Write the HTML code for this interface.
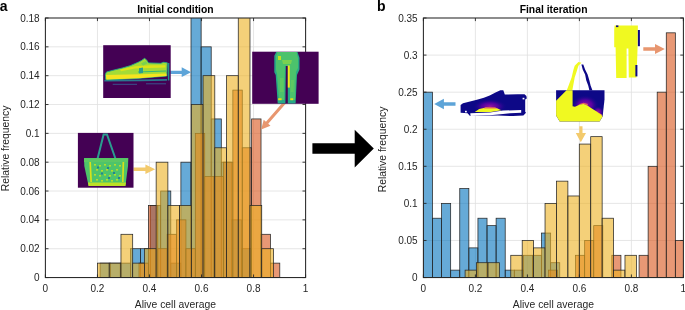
<!DOCTYPE html><html><head><meta charset="utf-8"><style>html,body{margin:0;padding:0;background:#fff;width:685px;height:310px;overflow:hidden}svg{display:block;will-change:transform}</style></head><body><svg width="685" height="310" viewBox="0 0 685 310" font-family='"Liberation Sans", sans-serif'><defs><clipPath id="cl"><rect x="45.4" y="18.0" width="260.20000000000005" height="259.55"/></clipPath><clipPath id="cr"><rect x="423.4" y="18.0" width="260.0" height="259.55"/></clipPath></defs><rect width="685" height="310" fill="#fff"/><g stroke="#dfdfdf" stroke-width="0.8"><line x1="97.44" y1="18.0" x2="97.44" y2="277.55"/><line x1="149.48" y1="18.0" x2="149.48" y2="277.55"/><line x1="201.52" y1="18.0" x2="201.52" y2="277.55"/><line x1="253.56" y1="18.0" x2="253.56" y2="277.55"/><line x1="45.4" y1="248.71" x2="305.6" y2="248.71"/><line x1="45.4" y1="219.87" x2="305.6" y2="219.87"/><line x1="45.4" y1="191.03" x2="305.6" y2="191.03"/><line x1="45.4" y1="162.19" x2="305.6" y2="162.19"/><line x1="45.4" y1="133.36" x2="305.6" y2="133.36"/><line x1="45.4" y1="104.52" x2="305.6" y2="104.52"/><line x1="45.4" y1="75.68" x2="305.6" y2="75.68"/><line x1="45.4" y1="46.84" x2="305.6" y2="46.84"/></g><g clip-path="url(#cl)" fill="#0072BD" fill-opacity="0.6" stroke="#262626" stroke-width="0.75"><rect x="100.10" y="263.13" width="10.10" height="14.42"/><rect x="110.20" y="263.13" width="10.10" height="14.42"/><rect x="120.30" y="263.13" width="10.10" height="14.42"/><rect x="130.40" y="248.71" width="10.10" height="28.84"/><rect x="140.50" y="248.71" width="10.10" height="28.84"/><rect x="150.60" y="205.45" width="10.10" height="72.10"/><rect x="160.70" y="191.03" width="10.10" height="86.52"/><rect x="170.80" y="263.13" width="10.10" height="14.42"/><rect x="180.90" y="162.19" width="10.10" height="115.36"/><rect x="191.00" y="-183.87" width="10.10" height="461.42"/><rect x="201.10" y="46.84" width="10.10" height="230.71"/><rect x="211.20" y="118.94" width="10.10" height="158.61"/><rect x="221.30" y="162.19" width="10.10" height="115.36"/><rect x="231.40" y="219.87" width="10.10" height="57.68"/><rect x="241.50" y="248.71" width="10.10" height="28.84"/></g><g clip-path="url(#cl)" fill="#D95319" fill-opacity="0.6" stroke="#262626" stroke-width="0.75"><rect x="139.00" y="263.13" width="9.39" height="14.42"/><rect x="148.39" y="205.45" width="9.39" height="72.10"/><rect x="157.77" y="248.71" width="9.39" height="28.84"/><rect x="167.16" y="234.29" width="9.39" height="43.26"/><rect x="176.54" y="219.87" width="9.39" height="57.68"/><rect x="185.93" y="248.71" width="9.39" height="28.84"/><rect x="195.32" y="133.36" width="9.39" height="144.19"/><rect x="204.70" y="176.61" width="9.39" height="100.94"/><rect x="214.09" y="176.61" width="9.39" height="100.94"/><rect x="223.47" y="162.19" width="9.39" height="115.36"/><rect x="232.86" y="90.10" width="9.39" height="187.45"/><rect x="242.25" y="147.78" width="9.39" height="129.78"/><rect x="251.63" y="118.94" width="9.39" height="158.61"/><rect x="261.02" y="234.29" width="9.39" height="43.26"/><rect x="270.40" y="263.13" width="9.39" height="14.42"/></g><g clip-path="url(#cl)" fill="#EDB120" fill-opacity="0.6" stroke="#262626" stroke-width="0.75"><rect x="97.50" y="263.13" width="11.73" height="14.42"/><rect x="109.23" y="263.13" width="11.73" height="14.42"/><rect x="120.96" y="234.29" width="11.73" height="43.26"/><rect x="132.69" y="263.13" width="11.73" height="14.42"/><rect x="144.42" y="248.71" width="11.73" height="28.84"/><rect x="156.15" y="162.19" width="11.73" height="115.36"/><rect x="167.88" y="205.45" width="11.73" height="72.10"/><rect x="179.61" y="205.45" width="11.73" height="72.10"/><rect x="191.34" y="104.52" width="11.73" height="173.03"/><rect x="203.07" y="75.68" width="11.73" height="201.87"/><rect x="214.80" y="147.78" width="11.73" height="129.78"/><rect x="226.53" y="75.68" width="11.73" height="201.87"/><rect x="238.26" y="3.58" width="11.73" height="273.97"/><rect x="249.99" y="205.45" width="11.73" height="72.10"/><rect x="261.72" y="248.71" width="11.73" height="28.84"/></g><rect x="45.4" y="18.0" width="260.20000000000005" height="259.55" fill="none" stroke="#262626" stroke-width="1.05"/><path d="M45.40 277.55v-3.1M45.40 18.0v3.1M97.44 277.55v-3.1M97.44 18.0v3.1M149.48 277.55v-3.1M149.48 18.0v3.1M201.52 277.55v-3.1M201.52 18.0v3.1M253.56 277.55v-3.1M253.56 18.0v3.1M305.60 277.55v-3.1M305.60 18.0v3.1M45.4 277.55h3.1M305.6 277.55h-3.1M45.4 248.71h3.1M305.6 248.71h-3.1M45.4 219.87h3.1M305.6 219.87h-3.1M45.4 191.03h3.1M305.6 191.03h-3.1M45.4 162.19h3.1M305.6 162.19h-3.1M45.4 133.36h3.1M305.6 133.36h-3.1M45.4 104.52h3.1M305.6 104.52h-3.1M45.4 75.68h3.1M305.6 75.68h-3.1M45.4 46.84h3.1M305.6 46.84h-3.1M45.4 18.00h3.1M305.6 18.00h-3.1" stroke="#262626" stroke-width="0.9" fill="none"/><g font-size="10" fill="#262626"><text x="39.60" y="281.15" text-anchor="end">0</text><text x="39.60" y="252.31" text-anchor="end">0.02</text><text x="39.60" y="223.47" text-anchor="end">0.04</text><text x="39.60" y="194.63" text-anchor="end">0.06</text><text x="39.60" y="165.79" text-anchor="end">0.08</text><text x="39.60" y="136.96" text-anchor="end">0.1</text><text x="39.60" y="108.12" text-anchor="end">0.12</text><text x="39.60" y="79.28" text-anchor="end">0.14</text><text x="39.60" y="50.44" text-anchor="end">0.16</text><text x="39.60" y="21.60" text-anchor="end">0.18</text><text x="45.40" y="291.75" text-anchor="middle">0</text><text x="97.44" y="291.75" text-anchor="middle">0.2</text><text x="149.48" y="291.75" text-anchor="middle">0.4</text><text x="201.52" y="291.75" text-anchor="middle">0.6</text><text x="253.56" y="291.75" text-anchor="middle">0.8</text><text x="305.60" y="291.75" text-anchor="middle">1</text></g><g stroke="#dfdfdf" stroke-width="0.8"><line x1="475.40" y1="18.0" x2="475.40" y2="277.55"/><line x1="527.40" y1="18.0" x2="527.40" y2="277.55"/><line x1="579.40" y1="18.0" x2="579.40" y2="277.55"/><line x1="631.40" y1="18.0" x2="631.40" y2="277.55"/><line x1="423.4" y1="240.47" x2="683.4" y2="240.47"/><line x1="423.4" y1="203.39" x2="683.4" y2="203.39"/><line x1="423.4" y1="166.31" x2="683.4" y2="166.31"/><line x1="423.4" y1="129.24" x2="683.4" y2="129.24"/><line x1="423.4" y1="92.16" x2="683.4" y2="92.16"/><line x1="423.4" y1="55.08" x2="683.4" y2="55.08"/></g><g clip-path="url(#cr)" fill="#0072BD" fill-opacity="0.6" stroke="#262626" stroke-width="0.75"><rect x="423.40" y="92.16" width="9.09" height="185.39"/><rect x="432.49" y="218.22" width="9.09" height="59.33"/><rect x="441.58" y="203.39" width="9.09" height="74.16"/><rect x="450.67" y="270.13" width="9.09" height="7.42"/><rect x="459.76" y="188.56" width="9.09" height="88.99"/><rect x="468.85" y="247.89" width="9.09" height="29.66"/><rect x="477.94" y="218.22" width="9.09" height="59.33"/><rect x="487.03" y="225.64" width="9.09" height="51.91"/><rect x="496.12" y="218.22" width="9.09" height="59.33"/><rect x="505.21" y="270.13" width="9.09" height="7.42"/><rect x="514.30" y="270.13" width="9.09" height="7.42"/><rect x="523.39" y="255.30" width="9.09" height="22.25"/><rect x="532.48" y="255.30" width="9.09" height="22.25"/><rect x="541.57" y="233.06" width="9.09" height="44.49"/><rect x="550.66" y="262.72" width="9.09" height="14.83"/></g><g clip-path="url(#cr)" fill="#D95319" fill-opacity="0.6" stroke="#262626" stroke-width="0.75"><rect x="548.40" y="270.13" width="9.07" height="7.42"/><rect x="575.60" y="255.30" width="9.07" height="22.25"/><rect x="584.67" y="240.47" width="9.07" height="37.08"/><rect x="593.73" y="225.64" width="9.07" height="51.91"/><rect x="611.87" y="255.30" width="9.07" height="22.25"/><rect x="639.07" y="255.30" width="9.07" height="22.25"/><rect x="648.13" y="166.31" width="9.07" height="111.24"/><rect x="657.20" y="92.16" width="9.07" height="185.39"/><rect x="666.27" y="32.83" width="9.07" height="244.72"/><rect x="675.33" y="240.47" width="9.07" height="37.08"/></g><g clip-path="url(#cr)" fill="#EDB120" fill-opacity="0.6" stroke="#262626" stroke-width="0.75"><rect x="465.10" y="270.13" width="11.42" height="7.42"/><rect x="476.52" y="262.72" width="11.42" height="14.83"/><rect x="487.94" y="262.72" width="11.42" height="14.83"/><rect x="510.78" y="255.30" width="11.42" height="22.25"/><rect x="522.20" y="240.47" width="11.42" height="37.08"/><rect x="533.62" y="247.89" width="11.42" height="29.66"/><rect x="545.04" y="203.39" width="11.42" height="74.16"/><rect x="556.46" y="181.15" width="11.42" height="96.40"/><rect x="567.88" y="195.98" width="11.42" height="81.57"/><rect x="579.30" y="144.07" width="11.42" height="133.48"/><rect x="590.72" y="136.65" width="11.42" height="140.90"/><rect x="602.14" y="218.22" width="11.42" height="59.33"/><rect x="613.56" y="270.13" width="11.42" height="7.42"/><rect x="624.98" y="255.30" width="11.42" height="22.25"/></g><rect x="423.4" y="18.0" width="260.0" height="259.55" fill="none" stroke="#262626" stroke-width="1.05"/><path d="M423.40 277.55v-3.1M423.40 18.0v3.1M475.40 277.55v-3.1M475.40 18.0v3.1M527.40 277.55v-3.1M527.40 18.0v3.1M579.40 277.55v-3.1M579.40 18.0v3.1M631.40 277.55v-3.1M631.40 18.0v3.1M683.40 277.55v-3.1M683.40 18.0v3.1M423.4 277.55h3.1M683.4 277.55h-3.1M423.4 240.47h3.1M683.4 240.47h-3.1M423.4 203.39h3.1M683.4 203.39h-3.1M423.4 166.31h3.1M683.4 166.31h-3.1M423.4 129.24h3.1M683.4 129.24h-3.1M423.4 92.16h3.1M683.4 92.16h-3.1M423.4 55.08h3.1M683.4 55.08h-3.1M423.4 18.00h3.1M683.4 18.00h-3.1" stroke="#262626" stroke-width="0.9" fill="none"/><g font-size="10" fill="#262626"><text x="417.60" y="281.15" text-anchor="end">0</text><text x="417.60" y="244.07" text-anchor="end">0.05</text><text x="417.60" y="206.99" text-anchor="end">0.1</text><text x="417.60" y="169.91" text-anchor="end">0.15</text><text x="417.60" y="132.84" text-anchor="end">0.2</text><text x="417.60" y="95.76" text-anchor="end">0.25</text><text x="417.60" y="58.68" text-anchor="end">0.3</text><text x="417.60" y="21.60" text-anchor="end">0.35</text><text x="423.40" y="291.75" text-anchor="middle">0</text><text x="475.40" y="291.75" text-anchor="middle">0.2</text><text x="527.40" y="291.75" text-anchor="middle">0.4</text><text x="579.40" y="291.75" text-anchor="middle">0.6</text><text x="631.40" y="291.75" text-anchor="middle">0.8</text><text x="683.40" y="291.75" text-anchor="middle">1</text></g><g fill="#000"><text x="-0.2" y="10.9" font-size="14" font-weight="bold">a</text><text x="377.1" y="10.5" font-size="14" font-weight="bold">b</text><text x="175.4" y="12.6" font-size="10.35" font-weight="bold" text-anchor="middle">Initial condition</text><text x="553.6" y="12.6" font-size="10.35" font-weight="bold" text-anchor="middle">Final iteration</text></g><g font-size="10.35" fill="#262626"><text x="175.4" y="308.0" text-anchor="middle">Alive cell average</text><text x="553.4" y="308.0" text-anchor="middle">Alive cell average</text><text transform="translate(9.0 148.4) rotate(-90)" text-anchor="middle">Relative frequency</text><text transform="translate(385.6 149.5) rotate(-90)" text-anchor="middle">Relative frequency</text></g><path d="M312.4 143.2H354.7V129.7L373.8 148.4L354.7 167.4V153.8H312.4Z" fill="#000"/><g id="arrowsL">
<path d="M170.3 70.8 H181.7 V67.3 L191.1 72.3 L181.7 77.1 V73.9 H170.3 Z" fill="#5DA4D8"/>
<path d="M133.5 167.6 H145.4 V164.4 L155.2 169.3 L145.4 174.1 V171.1 H133.5 Z" fill="#F3CA6C"/>
<path d="M285.9 103.5 L268.23 123.79 L270.49 125.76 L261.2 129.6 L263.71 119.84 L265.97 121.81 L283.6 101.5 Z" fill="#E8966F"/>
</g>
<g id="sneakerL">
<rect x="103.2" y="45.2" width="67.5" height="52.8" fill="#440154"/>
<path d="M104.3 80.6 L140 80.4 L167 79.8" stroke="#2A788E" stroke-width="1.8" fill="none"/>
<path d="M168.6 80.5 L168.6 63" stroke="#21918C" stroke-width="1.5" fill="none"/>
<path d="M112.7 84.3 H137 M146 83.8 H166" stroke="#3B528B" stroke-width="1" fill="none"/>
<path d="M105.4 74.2 L106.5 72 L113.3 70.2 L122.3 68 L130.2 65.7 L138.1 62.3 L141.5 60.5 L144.7 58.2 L147 60.5 L148.5 62.9 L160.8 63.3 L163.5 62.3 L167.3 62.8 L166.8 76 L139.3 78.3 L106.5 80 L105.4 78.9 Z" fill="#A5DB36" stroke="#22A884" stroke-width="0.9"/>
<path d="M105.8 75 L140 74.2 L166.5 73.6 L166.6 76 L139.3 78.2 L106.5 79.6 Z" fill="#F5E41F"/>
<path d="M120 69.5 L135 66.3 L150 65.2 L165.5 65.2 L165.5 67.6 L150 68 L135 68.6 L121 71.2 Z" fill="#DDE318"/>
<path d="M138 72 L166 71" stroke="#35B779" stroke-width="1.2" fill="none"/>
<path d="M139 68.2 L143 67.5 L143 73 L139 73.5 Z" fill="#2A9D8F"/>
<path d="M141 63.5 L146 61 L147.5 63.5 L143 65.5 Z" fill="#7AD151"/>
</g>
<g id="trouserL">
<rect x="252.2" y="51.7" width="66.4" height="52.1" fill="#440154"/>
<path d="M276.2 51.9 L297.5 51.9 L299.5 57.7 L299.5 69.4 L297 75 L295.6 103.6 L287.8 103.6 L287.8 65.5 L285.9 65.5 L285.4 103.6 L277.7 103.6 L275.7 75 L274.3 72.3 L274.3 55.8 Z" fill="#27A886"/>
<path d="M277.5 52 L296.5 52 L298 58 L298 68 L296 72 L295 100 L290 100 L290 66 L285 66 L284.2 100 L279 100 L277 74 L276 70 L276 56 Z" fill="#4CC26C"/>
<path d="M278 56 L281 56 L281 60 L278 60 Z" fill="#C4E021"/>
<path d="M282 60 L292 60 L291 64 L283 64 Z" fill="#7AD151"/>
<path d="M287.8 65.5 L289.8 65.5 L289.8 87.6 L287.8 87.6 Z" fill="#F4E61E"/>
<path d="M278.2 98.2 L281.6 98.2 L281.6 100.2 L278.2 100.2 Z M290.3 98.2 L293.2 98.2 L293.2 100.2 L290.3 100.2 Z" fill="#E3E418"/>
<path d="M280 78 L283.5 78 L283.5 92 L280 92 Z M291 80 L294 80 L293.5 92 L290.5 92 Z" fill="#5EC962"/>
</g>
<g id="bagL">
<rect x="77.9" y="132.9" width="55.6" height="54.8" fill="#440154"/>
<path d="M97.6 158.5 L103.6 134.5 L107 134.5 L115.4 158.5" stroke="#2A9D8F" stroke-width="2" fill="none"/>
<path d="M84 158.1 L128.3 158.1 L128 166 L125.4 186.1 L88.6 186.1 L84.3 166 Z" fill="#4EC46A"/>
<path d="M84 158.5 L128 158.5 L128 162 L84 162 Z" fill="#5CC863"/>
<path d="M88 182.5 L126 182.5 L125.4 186.1 L88.6 186.1 Z" fill="#BDDF26"/>
<path d="M89.3 162 L91 162 L92 182 L90.3 182 Z M122.5 162 L124.2 162 L123.6 182 L122 182 Z" fill="#D8E219"/>
<g fill="#B5DE2B">
<rect x="94" y="164" width="2" height="1.6"/><rect x="99" y="165" width="2" height="1.6"/><rect x="104" y="164" width="2" height="1.6"/><rect x="109" y="165" width="2" height="1.6"/><rect x="114" y="164" width="2" height="1.6"/><rect x="119" y="165" width="2" height="1.6"/>
<rect x="96" y="169" width="2" height="1.6"/><rect x="101" y="170" width="2" height="1.6"/><rect x="106" y="169" width="2" height="1.6"/><rect x="111" y="170" width="2" height="1.6"/><rect x="116" y="169" width="2" height="1.6"/>
<rect x="94" y="174" width="2" height="1.6"/><rect x="99" y="175" width="2" height="1.6"/><rect x="104" y="174" width="2" height="1.6"/><rect x="109" y="175" width="2" height="1.6"/><rect x="114" y="174" width="2" height="1.6"/><rect x="119" y="175" width="2" height="1.6"/>
<rect x="96" y="179" width="2" height="1.6"/><rect x="101" y="180" width="2" height="1.6"/><rect x="106" y="179" width="2" height="1.6"/><rect x="111" y="180" width="2" height="1.6"/><rect x="116" y="179" width="2" height="1.6"/>
</g>
<g fill="#25848E">
<rect x="97" y="166.5" width="2" height="2"/><rect x="107" y="167" width="2" height="2"/><rect x="113" y="172" width="2" height="2"/><rect x="101" y="172.5" width="2" height="2"/><rect x="108" y="177" width="2" height="2"/><rect x="118" y="177" width="2" height="2"/>
</g>
</g>
<g id="arrowsR">
<path d="M455.5 102.2 H443.9 V98.8 L434.2 104 L443.9 109.2 V105.8 H455.5 Z" fill="#5DA4D8"/>
<path d="M579.3 126.2 V133 H575.8 L580.8 142.3 L586 133 H582.5 V126.2 Z" fill="#F3CA6C"/>
<path d="M643.3 47.3 H655 V44 L664.8 49 L655 54 V50.7 H643.3 Z" fill="#E8966F"/>
</g>
<g id="sneakerR">
<path d="M460.6 104.9 L463 103.2 L470 101.4 L476.9 99.7 L483.9 97.7 L489.7 95.6 L495.5 92.4 L500.4 90.2 L503.3 90.2 L504.8 94.6 L517.6 94.3 L524.5 94.3 L526.4 96 L526.8 98.6 L525.2 99.4 L525.2 111.8 L526 112.8 L523.4 115.6 L512.9 116.1 L497.8 115.6 L470 116.1 L467.6 113.2 L460.6 112.7 Z" fill="#0D0887"/>
<ellipse cx="490" cy="106.5" rx="17" ry="7.5" fill="url(#gS)"/>
<path d="M474.8 111.9 L479.2 109 L486.2 107.4 L496.5 107.9 L501.3 110.3 L490.8 111.9 Z" fill="#F0F921"/>
<path d="M485 107.3 L495 107.3 L497.5 108.5 L484 108.5 Z" fill="#E16462"/>
<path d="M470.3 113.3 L490 112.5 L503 110.6 L521.2 110.0 L521.2 112.7 L510 113.2 L503 114.0 L490 115.2 L470.5 115.9 Z" fill="#fff"/>
<rect x="465" y="110.8" width="1.8" height="1.6" fill="#fff"/>
<rect x="522.6" y="97.8" width="1.8" height="1.6" fill="#fff"/>
</g>
<g id="bagR">
<path d="M578.4 62.1 L581.4 62.7 L578.4 65.8 L576.5 71.9 L574.7 77.4 L572.3 90.5 L566.7 90.5 L568.6 85.4 L571.6 77.4 L573.5 69.5 L574.7 65.8 Z" fill="#F0F921"/>
<path d="M581.4 64.6 L583.3 64.6 L585.1 69.5 L587.6 74.4 L589.4 80.5 L590.6 85.4 L592.5 90.5 L589.4 90.5 L588.2 85.4 L586.3 80.5 L585.1 74.4 L582.7 69.5 Z" fill="#0D0887"/>
<path d="M556.1 90.3 L604.5 90.3 L604.5 99.5 L602.6 116.5 L599.6 121.5 L559.7 121.5 L556.1 115.4 Z" fill="#0D0887"/>
<defs><radialGradient id="gB"><stop offset="0" stop-color="#9C179E"/><stop offset="0.5" stop-color="#6A00A8" stop-opacity="0.8"/><stop offset="1" stop-color="#0D0887" stop-opacity="0"/></radialGradient><radialGradient id="gS"><stop offset="0" stop-color="#9C179E"/><stop offset="0.5" stop-color="#6A00A8" stop-opacity="0.7"/><stop offset="1" stop-color="#0D0887" stop-opacity="0"/></radialGradient></defs><clipPath id="cbag"><path d="M556.1 90.3 L604.5 90.3 L604.5 99.5 L602.6 116.5 L599.6 121.5 L559.7 121.5 L556.1 115.4 Z"/></clipPath><ellipse cx="585" cy="105" rx="14" ry="10" fill="url(#gB)" clip-path="url(#cbag)"/><ellipse cx="598" cy="112" rx="6" ry="6" fill="url(#gB)" clip-path="url(#cbag)"/>
<path d="M578 104.5 L583.6 102.8 L588 104 L587.3 105.6 L583.6 104.1 L580 104.4 Z" fill="#E16462"/>
<path d="M598 112.5 L601.5 114.2 L602.6 116.5 L600 115 Z" fill="#F89540"/>
<path d="M566.5 90.3 L572.6 90.3 L572.6 106.2 L575 106.8 L580 104.4 L583.6 104.1 L587.3 105.6 L592.2 108.7 L597.1 111.7 L600.8 114.8 L602.6 116.5 L599.6 121.5 L559.7 121.5 L556.1 115.4 L556.1 100.7 Z" fill="#F0F921"/>
</g>
<g id="trouserR">
<path d="M614.6 25.6 L637.9 25.6 L637.6 47 L636.5 77.4 L628.8 77.4 L628.4 48.5 L626.6 48.5 L626.6 78.1 L616.2 78.1 L615.6 47.2 L614.2 47.2 L614.2 30 Z" fill="#F0F921"/>
<rect x="616" y="25.4" width="2.4" height="1.7" fill="#0D0887"/>
<rect x="637.9" y="30" width="2" height="16.2" fill="#0D0887"/>
<rect x="635.4" y="65" width="2" height="11.4" fill="#0D0887"/>
</g>
</svg></body></html>
